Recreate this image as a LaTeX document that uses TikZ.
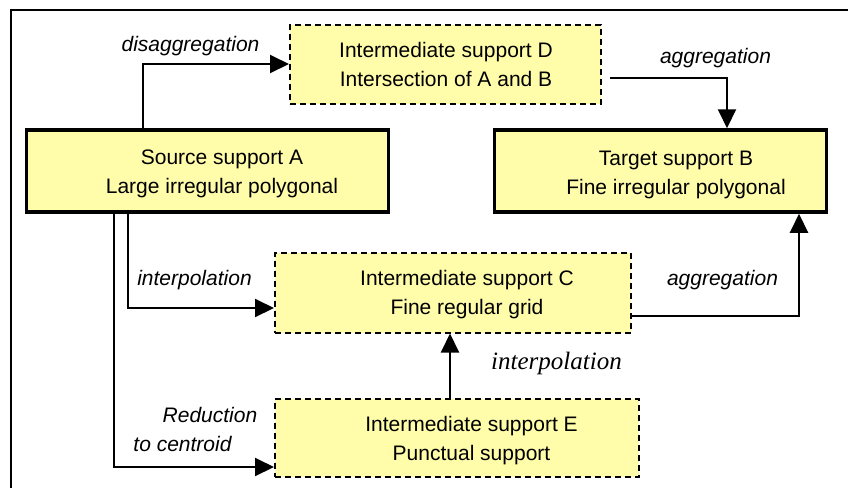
\documentclass[tikz,border=0pt]{standalone}
\usepackage{fontspec}
\setmainfont{Liberation Sans}
\newfontfamily\serifit{Liberation Serif}
\usetikzlibrary{arrows.meta}
\definecolor{boxfill}{RGB}{255,253,170}

\begin{document}
\begin{tikzpicture}[x=1pt,y=-1pt,
  solidbox/.style={draw, line width=3.5pt, fill=boxfill, inner sep=0pt},
  dashbox/.style={draw, line width=2pt, dash pattern=on 6pt off 4pt, fill=boxfill, inner sep=0pt},
  boxtext/.style={align=center, inner sep=0pt, font=\fontsize{21}{29.5}\selectfont},
  conn/.style={line width=2pt, -{Triangle[length=19pt,width=18pt]}},
  lbl/.style={anchor=base, inner sep=0pt, font=\fontsize{21}{25}\selectfont\itshape},
]
\useasboundingbox (0,0) rectangle (848,488);

% frame (top and left edges)
\draw[line width=2pt] (11,488) -- (11,10) -- (848,10);

% supports
\node[solidbox, minimum width=362pt, minimum height=82pt] (A) at (207.5,171) {};
\node[solidbox, minimum width=332pt, minimum height=82pt] (B) at (660.5,171) {};
\node[dashbox,  minimum width=311pt, minimum height=79pt] (D) at (445.5,64) {};
\node[dashbox,  minimum width=356pt, minimum height=80pt] (C) at (453,292.5) {};
\node[dashbox,  minimum width=364pt, minimum height=78pt] (E) at (457,437.5) {};

\node[boxtext] (Atxt) at (222,173.3) {\strut Source support A\\\strut Large irregular polygonal};
\node[boxtext] (Btxt) at (676,173.9) {\strut Target support B\\\strut Fine irregular polygonal};
\node[boxtext] (Dtxt) at (446,66.1) {\strut Intermediate support D\\\strut Intersection of A and B};
\node[boxtext] (Ctxt) at (467,294.1) {\strut Intermediate support C\\\strut Fine regular grid};
\node[boxtext] (Etxt) at (471.5,440.3) {\strut Intermediate support E\\\strut Punctual support};

% connectors
\draw[conn] ([xshift=-64.5pt]A.north) |- (D.west);
\draw[conn] ([xshift=8pt,yshift=-14pt]D.east) -| ([xshift=66.5pt]B.north);
\draw[conn] ([xshift=-79.5pt]A.south) |- ([yshift=-15.5pt]C.west);
\draw[conn] ([xshift=-93.5pt]A.south) |- ([yshift=-29.5pt]E.west);
\draw[conn] ([xshift=-7pt]E.north) -- ([xshift=-3pt]C.south);
\draw[conn] ([yshift=-23.5pt]C.east) -| ([xshift=138.5pt]B.south);

% connector labels
\node[lbl] (Ldis) at (190.5,51) {disaggregation};
\node[lbl] (Lagg1) at (715.5,63) {aggregation};
\node[lbl] (Lint1) at (194.5,285) {interpolation};
\node[lbl] (Lred1) at (210,422) {Reduction};
\node[lbl] (Lred2) at (182.5,451) {to centroid};
\node[lbl, font=\serifit\itshape\fontsize{25}{30}\selectfont] (Lint2) at (556.5,369) {interpolation};
\node[lbl] (Lagg2) at (722.5,285) {aggregation};
\end{tikzpicture}
\end{document}
